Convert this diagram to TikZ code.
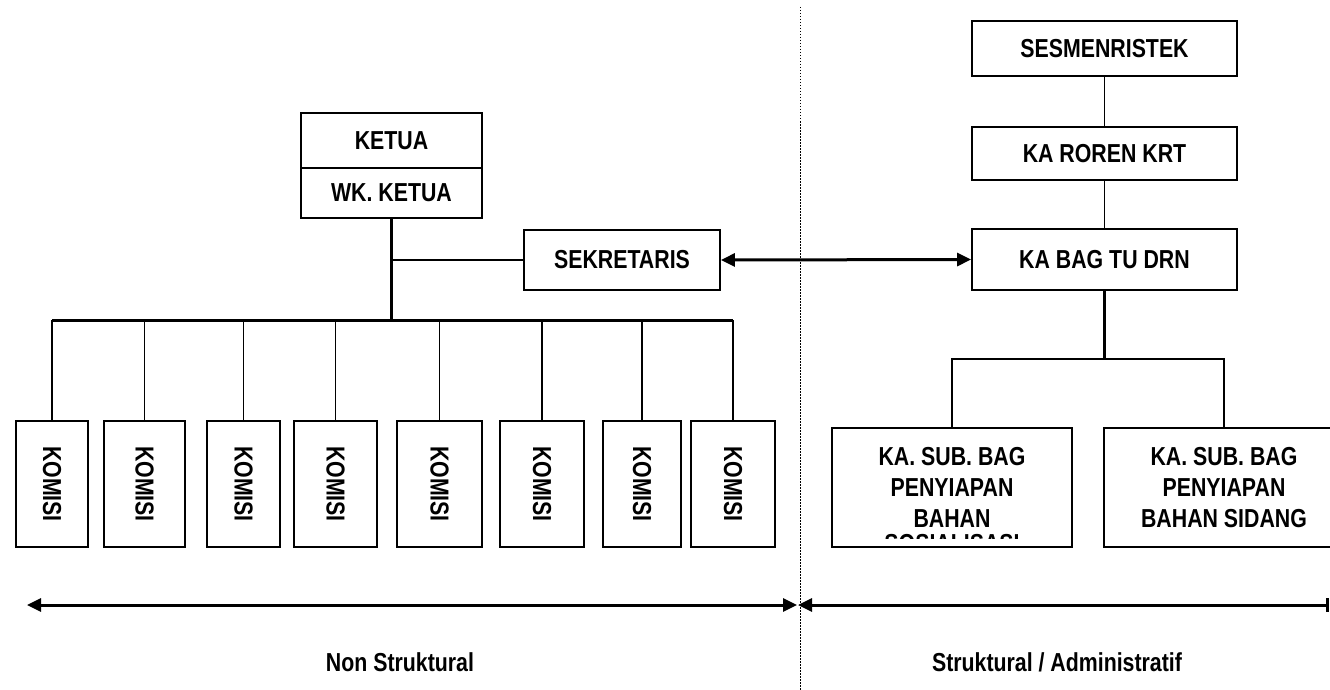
\documentclass[tikz,border=0pt]{standalone}
\usepackage{fontspec}
\setmainfont{Liberation Sans}[FakeStretch=0.82]
\newfontfamily\boxfont{Liberation Sans}[FakeStretch=0.82]
\usetikzlibrary{arrows.meta}
\begin{document}
\begin{tikzpicture}[x=1pt,y=-1pt,
  box/.style={draw,line width=1.8pt,inner sep=0pt,align=center,
    font=\boxfont\bfseries\fontsize{26}{31}\selectfont},
  komisibox/.style={box,minimum height=126pt},
  conn/.style={line width=1.8pt},
  thickconn/.style={line width=3pt},
  dblarrow/.style={line width=3pt,{Triangle[length=14pt,width=13pt]}-{Triangle[length=14pt,width=13pt]}},
  lbl/.style={font=\fontsize{26}{31}\selectfont\bfseries},
]
\useasboundingbox (0,0) rectangle (1330,690);
% divider
\draw[line width=1pt,dash pattern=on 1.5pt off 1.5pt] (800,7) coordinate (dtop) -- (800,690) coordinate (dbot);

% left side
\node[box,minimum width=181pt,minimum height=55pt] (ketua) at (391.5,140.5) {KETUA};
\node[box,minimum width=181pt,minimum height=50pt] (wk) at (391.5,193) {WK. KETUA};
\node[box,minimum width=196pt,minimum height=60pt] (sek) at (622,260) {SEKRETARIS};

\coordinate (busL) at (52,320);
\coordinate (busR) at (733,320);
\draw[thickconn] (wk.south) -- (wk.south |- busL);
\draw[conn] (sek.west) -- (sek.west -| wk.south);
\draw[thickconn] (busL) -- (busR);

\foreach \i/\l/\r in {1/16/88,2/104/185,3/207/280,4/294/377,5/397/482,6/500/584,7/603/681,8/691/775}{
  \pgfmathsetmacro{\cx}{(\l+\r)/2}
  \pgfmathsetmacro{\w}{\r-\l}
  \node[komisibox,minimum width=\w pt] (k\i) at (\cx,484) {\rotatebox{-90}{KOMISI}};
  \draw[conn] (k\i.north) -- (k\i.north |- busL);
}

% right side
\node[box,minimum width=265pt,minimum height=55pt] (sesm) at (1104.5,48.5) {SESMENRISTEK};
\node[box,minimum width=265pt,minimum height=53pt] (roren) at (1104.5,153.5) {KA ROREN KRT};
\node[box,minimum width=265pt,minimum height=61pt] (tu) at (1104.5,259.5) {KA BAG TU DRN};
\draw[conn] (sesm) -- (roren);
\draw[conn] (roren) -- (tu);
\draw[dblarrow] (sek.east) -- (tu.west);

\node[box,minimum width=240pt,minimum height=119pt] (sub1) at (952,487.5) {KA. SUB. BAG\\PENYIAPAN\\BAHAN};
\node[box,minimum width=240pt,minimum height=119pt] (sub2) at (1224,487.5) {KA. SUB. BAG\\PENYIAPAN\\BAHAN SIDANG};
\begin{scope}
  \clip (832,533) rectangle (1072,538);
  \node[font=\boxfont\bfseries\fontsize{26}{31}\selectfont,inner sep=0pt] (sub1cut) at (952,544) {SOSIALISASI};
\end{scope}
\coordinate (rbus) at (1104.5,359);
\draw[thickconn] (tu.south) -- (rbus);
\draw[conn] (sub1.north) -- (sub1.north |- rbus) -- (sub2.north |- rbus) -- (sub2.north);

% bottom range arrows
\coordinate (nsL) at (27,605);
\coordinate (nsR) at (797,605);
\coordinate (stL) at (798,605);
\coordinate (stR) at (1329,605);
\draw[dblarrow] (nsL) -- (nsR);
\draw[line width=3pt,{Triangle[length=14pt,width=13pt]}-{Bar[width=14pt]}] (stL) -- (stR);
\node[lbl] (ns) at (400,662) {Non Struktural};
\node[lbl] (st) at (1057,662) {Struktural / Administratif};
\end{tikzpicture}
\end{document}
